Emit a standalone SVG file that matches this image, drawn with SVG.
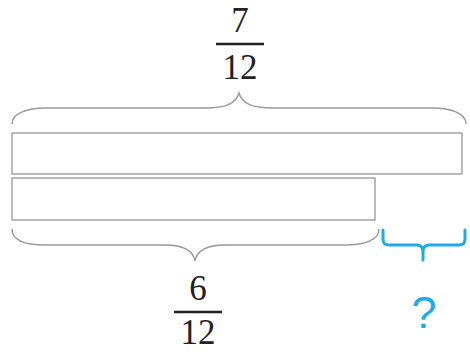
<svg xmlns="http://www.w3.org/2000/svg" width="470" height="352" viewBox="0 0 470 352">
<style>
.bar{fill:#fff;stroke:#999;stroke-width:1.3}
.brace{fill:none;stroke:#999;stroke-width:1.4}
.blue{fill:none;stroke:#1fabe5;stroke-width:3;stroke-linecap:round;stroke-linejoin:round}
.num{font-family:"Liberation Serif",serif;font-size:35px;fill:#222;text-anchor:middle}
.fl{stroke:#222;stroke-width:2.5}
.q{font-family:"Liberation Sans",sans-serif;font-size:45px;fill:#1fabe5;text-anchor:middle}
</style>
<rect width="470" height="352" fill="#fff"/>
<g id="bar-total"><rect class="bar" x="12" y="133" width="450" height="41"/></g>
<g id="bar-part"><rect class="bar" x="12" y="178" width="363" height="42"/></g>
<g id="connectors">
<path id="brace-top" class="brace" d="M12,124 C12,113 28,108 45,108 L205,108 C225,108 236,104 239,93 C242,104 253,108 273,108 L433,108 C450,108 466,113 466,124"/>
<path id="brace-bottom" class="brace" d="M12,229 C12,240 25,245 45,245 L165,245 C182,245 193,250 195,261 C197,250 208,245 225,245 L345,245 C365,245 379,240 379,229"/>
<path id="brace-blue" class="blue" d="M383,230 L383,239 Q383,245 389,245 L417,245 Q423,245 423,252 L423,260 M423,252 Q423,245 429,245 L459,245 Q465,245 465,239 L465,230"/>
</g>
<g id="label-top">
<text class="num" x="240" y="32">7</text>
<line class="fl" x1="216" y1="44" x2="264" y2="44"/>
<text class="num" x="240" y="79">12</text>
</g>
<g id="label-bottom">
<text class="num" x="198" y="300">6</text>
<line class="fl" x1="174" y1="312" x2="222" y2="312"/>
<text class="num" x="198" y="344">12</text>
</g>
<g id="label-q"><text class="q" x="424" y="328">?</text></g>
</svg>
